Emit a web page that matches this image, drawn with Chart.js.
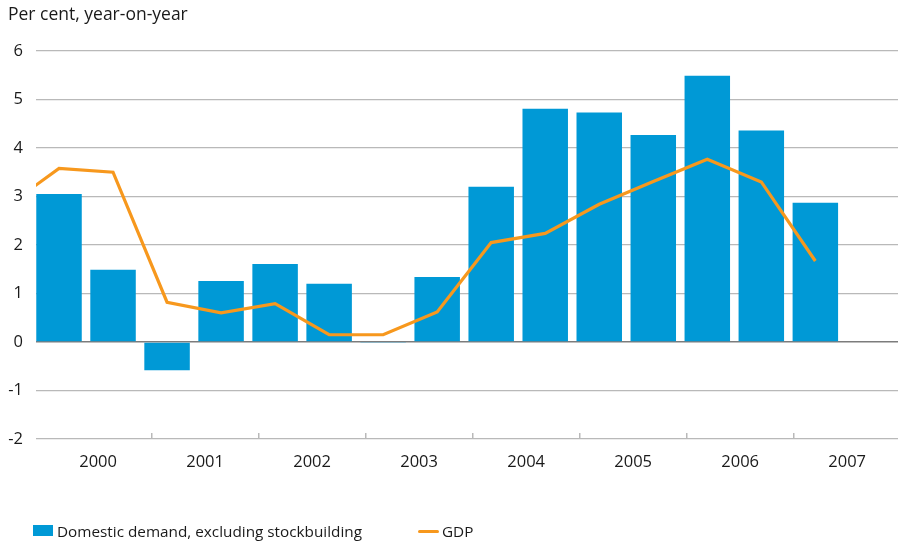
<!DOCTYPE html>
<html>
<head>
<meta charset="utf-8">
<script src="https://cdn.jsdelivr.net/npm/chart.js@4/dist/chart.umd.min.js"></script>
<style>
  html, body { margin: 0; padding: 0; background: #fff; }
  #wrap { position: relative; width: 898px; height: 541px; font-family: "Open Sans", sans-serif; color: #1a1a1a; }
  .leg { position: absolute; top: 520px; height: 22px; line-height: 22px; font-size: 15.3px; white-space: nowrap; }
  .leg i { position: absolute; left: 0; display: block; }
  .leg span { position: absolute; white-space: nowrap; }
</style>
</head>
<body>
<div id="wrap">
  <canvas id="chart" width="898" height="541"></canvas>
  <div id="legend"></div>
</div>
<script>
// half-yearly figures, per cent year-on-year
const years = [2000, 2001, 2002, 2003, 2004, 2005, 2006, 2007];
const domesticDemand = [3.05, 1.49, -0.58, 1.26, 1.61, 1.20, -0.02, 1.34, 3.20, 4.81, 4.73, 4.27, 5.49, 4.36, 2.87];
// first GDP value is the half-year before the chart starts (cut off at the left edge)
const gdp = [2.77, 3.58, 3.50, 0.82, 0.60, 0.79, 0.15, 0.15, 0.62, 2.05, 2.24, 2.84, 3.31, 3.77, 3.30, 1.67];
const seriesNames = ["Domestic demand, excluding stockbuilding", "GDP"];
const yTicks = [-2, -1, 0, 1, 2, 3, 4, 5, 6];

const blue = "#0099d6";
const orange = "#f7981d";
const textColor = "#1a1a1a";
const font = { family: "'Open Sans', sans-serif", size: 16.5 };

const barData = domesticDemand.map((v, i) => ({ x: i, y: v }));
const lineData = gdp.map((v, i) => ({ x: i - 1, y: v }));

new Chart("chart", {
  data: {
    datasets: [{
      type: "line",
      label: seriesNames[1],
      data: lineData,
      borderColor: orange,
      backgroundColor: orange,
      borderWidth: 3.2,
      pointRadius: 0,
      tension: 0,
      order: 0
    }, {
      type: "bar",
      label: seriesNames[0],
      data: barData,
      backgroundColor: blue,
      categoryPercentage: 1,
      barPercentage: 0.842,
      order: 1
    }]
  },
  options: {
    responsive: false,
    animation: false,
    layout: { padding: { left: 8, right: 0, top: 0, bottom: 62 } },
    plugins: {
      legend: { display: false },
      tooltip: { enabled: false },
      title: {
        display: true,
        text: "Per cent, year-on-year",
        align: "start",
        color: textColor,
        font: { family: font.family, size: 17.5, weight: "normal" },
        padding: { top: 5, bottom: 25 }
      }
    },
    scales: {
      x: {
        type: "linear",
        display: false,
        offset: false,
        grid: { offset: false },
        min: -0.426,
        max: 15.53
      },
      years: {
        type: "linear",
        position: "bottom",
        min: 1999.92,
        max: 2007.975,
        afterBuildTicks: s => {
          const t = [];
          years.forEach(y => {
            t.push({ value: y + 0.5 });
            if (y < years[years.length - 1]) t.push({ value: y + 1 });
          });
          s.ticks = t;
        },
        afterFit: s => { s.height = 40; },
        border: { display: false },
        grid: {
          drawOnChartArea: false,
          drawTicks: true,
          tickLength: -6,
          lineWidth: 1.5,
          tickColor: c => Number.isInteger(c.tick.value) ? "#b9b9b9" : "rgba(0,0,0,0)"
        },
        ticks: {
          padding: 19,
          maxRotation: 0,
          autoSkip: false,
          color: textColor,
          font: font,
          callback: v => Number.isInteger(v) ? "" : String(Math.floor(v))
        }
      },
      y: {
        min: yTicks[0],
        max: yTicks[yTicks.length - 1],
        afterFit: s => { s.width = 28; },
        border: { display: false },
        grid: {
          drawTicks: false,
          color: c => c.tick.value === 0 ? "#7c7c7c" : "#b9b9b9",
          lineWidth: c => c.tick.value === 0 ? 1.6 : 1.2
        },
        ticks: {
          stepSize: 1,
          padding: 13,
          color: textColor,
          font: font
        }
      }
    }
  }
});

// legend
const legend = document.getElementById("legend");
legend.innerHTML =
  '<div class="leg" style="left:33px"><i style="top:5px;width:20px;height:11px;background:' + blue + '"></i>' +
  '<span style="left:24px">' + seriesNames[0] + '</span></div>' +
  '<div class="leg" style="left:418px"><i style="top:9.5px;width:21px;height:3px;background:' + orange + ';border-radius:1.5px"></i>' +
  '<span style="left:24px">' + seriesNames[1] + '</span></div>';
</script>
</body>
</html>
